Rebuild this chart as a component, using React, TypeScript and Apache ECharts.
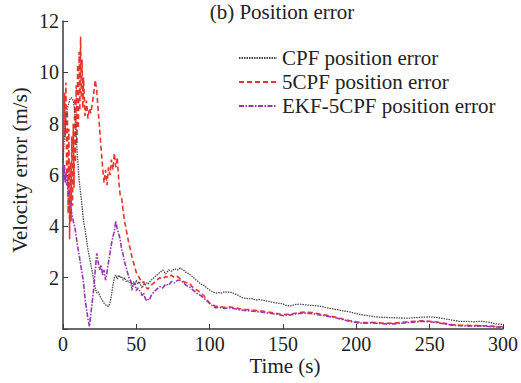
import React, { useEffect, useRef } from "react";
import * as echarts from "echarts";

const chartTitle = "(b) Position error";
const xAxisTitle = "Time (s)";
const yAxisTitle = "Velocity error (m/s)";
const seriesNames = ["CPF position error", "5CPF position error", "EKF-5CPF position error"];

const cpfTime = [0,1,2,3,4,5,6,7,8,9,10,11,12,13,14,15,16,17,18,19,20,21,22,23,24,25,26,27,28,29,30,31,32,33,34,35,36,37,38,39,40,41,42,43,44,45,46,47,48,49,50,51,52,53,54,55,56,57,58,60,62,64,66,68,70,72,74,76,78,80,82,84,86,88,90,92,94,96,98,100,102,104,106,108,110,112,114,116,118,120,122,124,126,128,130,132,134,136,138,140,142,145,148,150,152,155,158,161,164,167,170,173,176,180,184,188,192,196,200,204,208,212,216,220,225,230,235,240,245,250,255,260,265,270,275,280,285,290,295,300];
const cpfError = [6.5,7.5,8.2,8.6,8.8,9.0,9.0,8.9,8.5,7.5,6.6,5.8,5.3,4.8,4.2,3.9,3.5,3.1,2.8,2.5,2.2,1.9,1.6,1.4,1.45,1.3,1.2,1.1,1.0,0.95,0.9,0.88,1.0,1.3,1.7,2.0,2.1,1.95,2.1,2.0,2.05,1.9,2.0,1.85,1.9,1.8,1.9,1.5,1.85,1.7,1.9,1.75,1.85,1.7,1.6,1.75,1.7,1.8,1.75,1.9,2.0,2.1,2.2,2.3,2.15,2.3,2.25,2.35,2.3,2.37,2.3,2.2,2.15,2.05,1.95,1.85,1.75,1.7,1.6,1.52,1.45,1.4,1.42,1.4,1.45,1.43,1.44,1.4,1.35,1.3,1.22,1.2,1.18,1.2,1.15,1.13,1.15,1.12,1.1,1.08,1.05,1.02,1.0,0.98,0.92,0.9,0.95,0.97,0.95,0.93,0.92,0.9,0.88,0.82,0.78,0.74,0.7,0.66,0.6,0.55,0.52,0.48,0.46,0.45,0.44,0.43,0.42,0.44,0.46,0.47,0.45,0.4,0.35,0.3,0.3,0.28,0.3,0.27,0.2,0.18];

const cpf5Time = [0,1,1.5,2,2.5,3,3.5,4,4.5,5,5.5,6,6.5,7,7.5,8,8.5,9,9.5,10,10.5,11,11.5,12,12.5,13,13.5,14,15,16,17,18,19,20,21,22,23,24,25,26,27,28,29,30,31,32,33,34,35,36,37,38,39,40,41,42,43,44,45,46,47,48,49,50,51,52,53,54,55,56,57,58,59,60,62,64,66,68,70,72,74,76,78,80,82,84,86,88,90,92,94,96,98,100,102,104,106,108,110,112,114,116,118,120,124,128,132,136,140,145,150,155,160,165,170,175,180,185,190,195,200,205,210,215,220,225,230,235,240,245,250,255,260,265,270,275,280,285,290,295,300];
const cpf5Error = [7.0,9.2,7.5,9.6,6.0,8.5,4.5,7.8,3.5,6.5,4.2,7.5,4.8,8.0,5.5,9.0,6.5,9.5,7.2,10.3,7.8,10.8,8.5,11.4,9.0,10.5,8.6,9.8,8.3,8.9,8.2,8.6,8.4,8.8,9.2,9.7,9.3,8.5,7.8,7.0,6.3,5.7,6.2,5.6,6.3,6.0,6.6,6.2,6.85,6.3,6.7,5.8,5.2,5.1,4.6,4.2,3.9,3.6,3.3,3.1,2.8,2.6,2.4,2.2,2.1,2.0,1.9,1.8,1.85,1.7,1.6,1.55,1.65,1.7,1.8,1.9,2.0,1.95,2.05,2.0,2.1,2.0,2.05,1.95,1.85,1.8,1.8,1.65,1.55,1.5,1.4,1.3,1.15,1.0,0.95,0.88,0.9,0.87,0.85,0.86,0.86,0.84,0.82,0.8,0.77,0.75,0.72,0.7,0.66,0.62,0.56,0.58,0.63,0.66,0.64,0.58,0.53,0.48,0.4,0.33,0.28,0.25,0.26,0.24,0.22,0.23,0.25,0.28,0.3,0.32,0.3,0.27,0.22,0.17,0.15,0.14,0.13,0.13,0.12,0.1,0.09];

const ekfTime = [0,0.5,1,1.5,2,2.5,3,3.5,4,5,6,7,8,9,10,11,12,13,14,15,16,17,18,19,20,21,22,23,24,25,26,27,28,29,30,31,32,33,34,35,36,37,38,39,40,41,42,43,44,45,46,47,48,49,50,51,52,53,54,55,56,57,58,59,60,62,64,66,68,70,72,74,76,78,80,82,84,86,88,90,92,94,96,98,100,102,104,106,108,110,112,114,116,118,120,124,128,132,136,140,145,150,155,160,165,170,175,180,185,190,195,200,205,210,215,220,225,230,235,240,245,250,255,260,265,270,275,280,285,290,295,300];
const ekfError = [6.3,5.8,6.4,5.7,6.1,5.6,5.8,5.2,5.4,4.8,4.5,4.2,4.0,3.6,3.2,2.9,2.5,2.2,1.8,1.2,0.8,0.4,0.1,0.6,1.1,1.6,2.3,2.95,2.6,2.3,2.5,2.1,2.3,1.9,2.2,2.6,2.95,3.3,3.6,3.8,4.2,3.9,3.7,3.5,3.1,2.9,2.6,2.4,2.2,2.0,1.9,1.7,1.65,1.8,1.5,1.6,1.5,1.45,1.3,1.4,1.2,1.1,1.15,1.13,1.3,1.45,1.55,1.65,1.6,1.75,1.7,1.85,1.8,1.9,1.9,1.8,1.7,1.65,1.55,1.45,1.35,1.3,1.2,1.1,1.0,0.9,0.82,0.85,0.83,0.8,0.82,0.82,0.8,0.78,0.75,0.72,0.7,0.68,0.65,0.62,0.58,0.52,0.55,0.6,0.62,0.6,0.55,0.5,0.45,0.38,0.3,0.25,0.22,0.24,0.22,0.2,0.2,0.22,0.25,0.27,0.3,0.28,0.25,0.2,0.15,0.13,0.12,0.12,0.12,0.1,0.08,0.07];

const xTicks = { min: 0, max: 300, interval: 50 };
const yTicks = { min: 0, max: 12, interval: 2 };

const FONT = "Liberation Serif";

function pairs(t: number[], v: number[]) {
  return t.map((x, i) => [x, v[i]]);
}

export default function App() {
  const ref = useRef<HTMLDivElement>(null);
  useEffect(() => {
    if (!ref.current) return;
    const chart = echarts.init(ref.current, undefined, { renderer: "svg" });
    const axisColor = "#3a3a3a";
    const textColor = "#222";
    chart.setOption({
      animation: false,
      backgroundColor: "#ffffff",
      grid: { left: 63, right: 17, top: 21, bottom: 54, containLabel: false },
      graphic: [
        {
          type: "text",
          x: 282,
          y: 12,
          style: { text: chartTitle, fontFamily: FONT, fontSize: 21, fill: textColor, textAlign: "center", textVerticalAlign: "middle" },
        },
        {
          type: "text",
          x: 285,
          y: 366,
          style: { text: xAxisTitle, fontFamily: FONT, fontSize: 21, fill: textColor, textAlign: "center", textVerticalAlign: "middle" },
        },
        {
          type: "text",
          x: 20,
          y: 170,
          rotation: Math.PI / 2,
          style: { text: yAxisTitle, fontFamily: FONT, fontSize: 21, fill: textColor, textAlign: "center", textVerticalAlign: "middle" },
        },
      ],
      legend: {
        show: true,
        orient: "vertical",
        left: 233,
        top: 41,
        itemWidth: 38,
        itemHeight: 12,
        itemGap: 0,
        itemStyle: { opacity: 0 },
        textStyle: { fontFamily: FONT, fontSize: 21, color: textColor, lineHeight: 24 },
        data: seriesNames,
      },
      xAxis: {
        type: "value",
        min: xTicks.min,
        max: xTicks.max,
        interval: xTicks.interval,
        axisLine: { show: true, lineStyle: { color: axisColor, width: 1.5 } },
        axisTick: { show: true, inside: true, length: 5, lineStyle: { color: axisColor } },
        axisLabel: { fontFamily: FONT, fontSize: 20, color: textColor, margin: 5 },
        splitLine: { show: false },
      },
      yAxis: {
        type: "value",
        min: yTicks.min,
        max: yTicks.max,
        interval: yTicks.interval,
        axisLine: { show: true, lineStyle: { color: axisColor, width: 1.5 } },
        axisTick: { show: true, inside: true, length: 5, lineStyle: { color: axisColor } },
        axisLabel: {
          fontFamily: FONT,
          fontSize: 20,
          color: textColor,
          margin: 4,
          formatter: (v: number) => (v === 0 ? "" : String(v)),
        },
        splitLine: { show: false },
      },
      series: [
        {
          name: seriesNames[0],
          type: "line",
          data: pairs(cpfTime, cpfError),
          symbol: "none",
          lineStyle: { color: "#4a4a4a", width: 1.3, type: [1.5, 1] },
          itemStyle: { color: "#4a4a4a" },
          z: 3,
        },
        {
          name: seriesNames[1],
          type: "line",
          data: pairs(cpf5Time, cpf5Error),
          symbol: "none",
          lineStyle: { color: "#e8352b", width: 1.6, type: [5, 3] },
          itemStyle: { color: "#e8352b" },
          z: 2,
        },
        {
          name: seriesNames[2],
          type: "line",
          data: pairs(ekfTime, ekfError),
          symbol: "none",
          lineStyle: { color: "#9a35b5", width: 1.6, type: [5, 1.5, 1.5, 1.5] },
          itemStyle: { color: "#9a35b5" },
          z: 4,
        },
      ],
    });
    return () => chart.dispose();
  }, []);
  return <div ref={ref} style={{ width: 521, height: 383, position: "absolute", left: 0, top: 0 }} />;
}
